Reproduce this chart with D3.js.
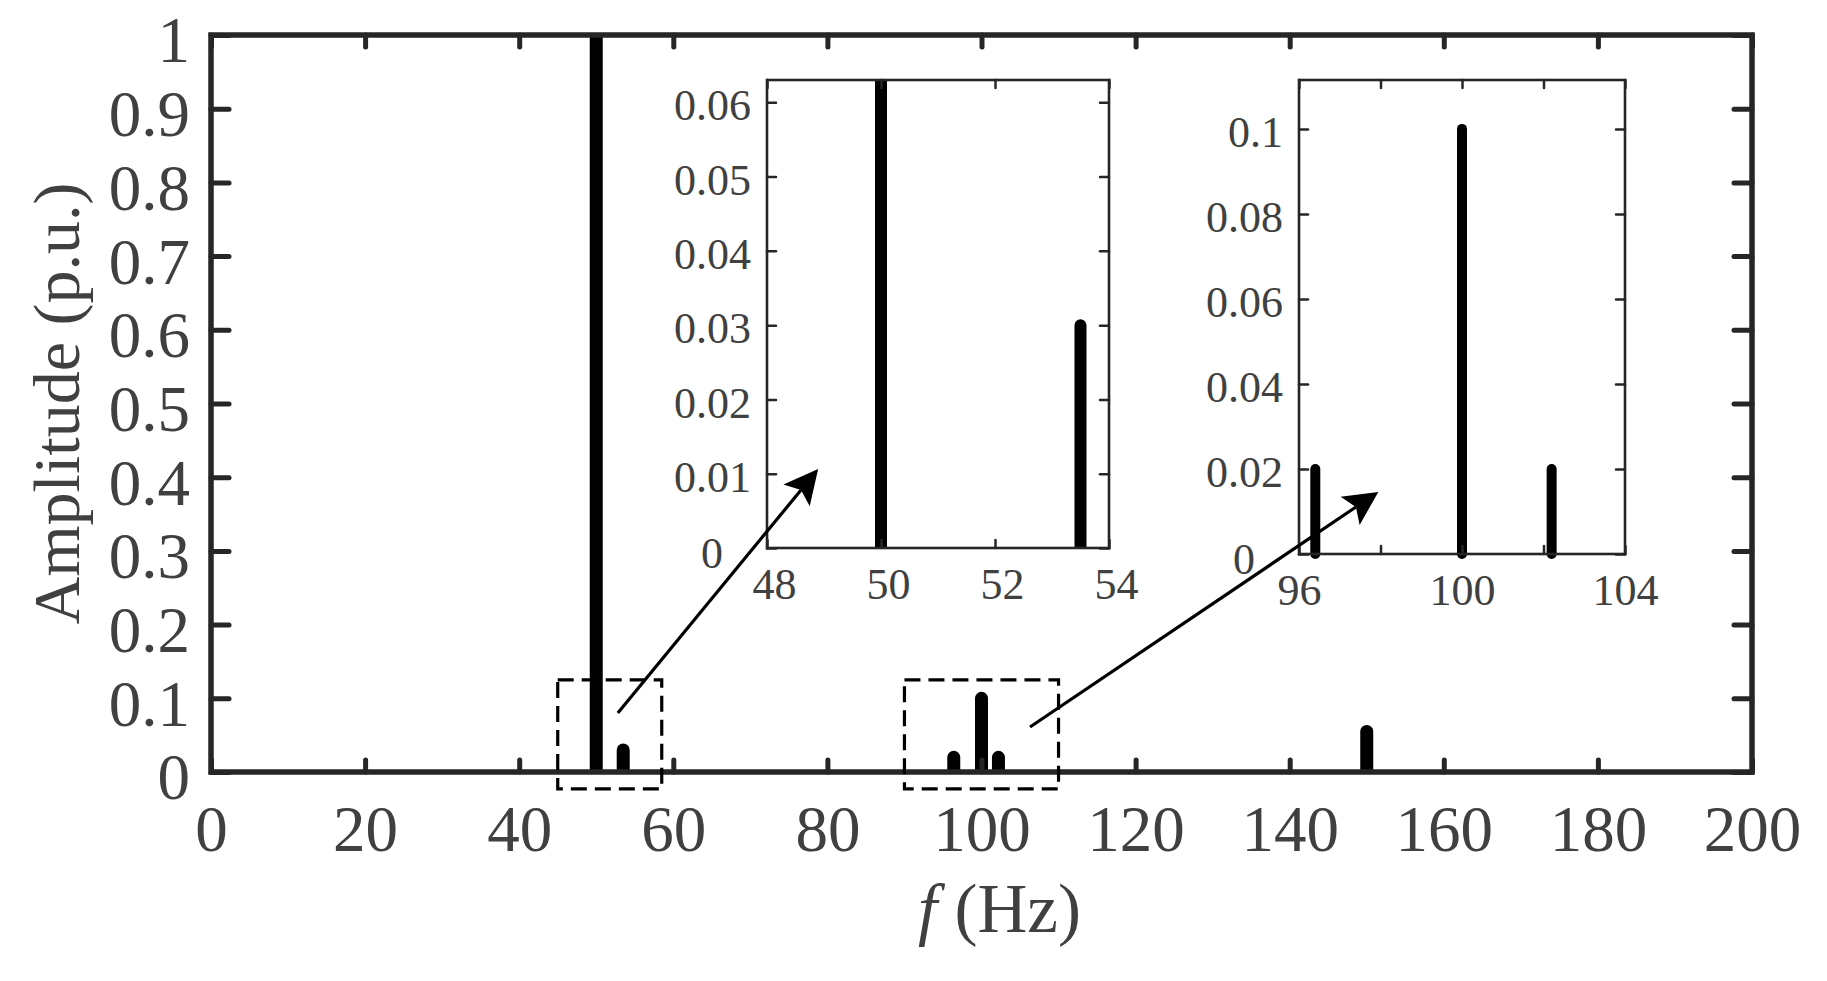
<!DOCTYPE html>
<html><head><meta charset="utf-8">
<script src="https://cdn.jsdelivr.net/npm/d3@7"></script>
<style>
body{margin:0;background:#fff}
text{font-family:"Liberation Serif","Times New Roman",serif;fill:#404040}
</style>
</head><body>
<svg id="c" width="1827" height="981"></svg>
<script>
// ---- data ----
const freqs = [50, 53.5, 96.4, 100, 102.2, 150];
const amps  = [1.0, 0.03, 0.02, 0.1, 0.02, 0.055];

const mainXTicks = [0, 20, 40, 60, 80, 100, 120, 140, 160, 180, 200];
const mainYTicks = [0, 0.1, 0.2, 0.3, 0.4, 0.5, 0.6, 0.7, 0.8, 0.9, 1];
const mainYTickLabels = ["0","0.1","0.2","0.3","0.4","0.5","0.6","0.7","0.8","0.9","1"];

const inset1XTicks = [48, 50, 52, 54];
const inset1XTickLabels = ["48","50","52","54"];
const inset1YTicks = [0, 0.01, 0.02, 0.03, 0.04, 0.05, 0.06];
const inset1YTickLabels = ["0","0.01","0.02","0.03","0.04","0.05","0.06"];
const inset1XDomain = [48, 54];
const inset1YDomain = [0, 0.063];

const inset2XTicks = [96, 98, 100, 102, 104];
const inset2XTickLabels = ["96","","100","","104"];
const inset2YTicks = [0, 0.02, 0.04, 0.06, 0.08, 0.1];
const inset2YTickLabels = ["0","0.02","0.04","0.06","0.08","0.1"];
const inset2XDomain = [96, 104];
const inset2YDomain = [0, 0.1115];

// zoom rectangles and arrows, in main-axis data coordinates
const zoomBoxX0 = [45, 90];
const zoomBoxX1 = [58.5, 110];
const zoomBoxY0 = [-0.023, -0.023];
const zoomBoxY1 = [0.125, 0.125];
const arrowFromX = [52.8, 106.3];
const arrowFromY = [0.080, 0.061];
const arrowToX   = [78.8, 151.5];
const arrowToY   = [0.411, 0.380];

// ---- layout ----
const svg = d3.select("#c");
const M = {l:211, r:1752, t:35, b:772};
const I1 = {l:767, r:1109, t:80, b:548, xdx:7};
const I2 = {l:1299, r:1625, t:80, b:554, xdx:0};
const axisColor = "#262626";
const data = freqs.map((f,i)=>({f, a:amps[i]}));

const x = d3.scaleLinear().domain([0,200]).range([M.l, M.r]);
const y = d3.scaleLinear().domain([0,1]).range([M.b, M.t]);

const defs = svg.append("defs");
defs.append("clipPath").attr("id","clipMain").append("rect")
  .attr("x",M.l).attr("y",M.t).attr("width",M.r-M.l).attr("height",M.b-M.t);
defs.append("clipPath").attr("id","clipI1").append("rect")
  .attr("x",I1.l).attr("y",I1.t).attr("width",I1.r-I1.l).attr("height",I1.b-I1.t);

// main bars
svg.append("g").attr("clip-path","url(#clipMain)")
  .selectAll("line").data(data).join("line")
  .attr("x1",d=>x(d.f)).attr("x2",d=>x(d.f))
  .attr("y1",y(0)).attr("y2",d=>y(d.a))
  .attr("stroke","#000").attr("stroke-width",13).attr("stroke-linecap","round");

function styleAxis(g, sw){
  g.select(".domain").remove();
  g.selectAll(".tick line").attr("stroke",axisColor).attr("stroke-width",sw).attr("stroke-linecap","round");
}

// main axes
const fsMain = 65;
const gxB = svg.append("g").attr("transform",`translate(0,${M.b})`)
  .call(d3.axisBottom(x).tickValues(mainXTicks).tickSize(-12).tickPadding(33).tickFormat(d3.format("d")));
styleAxis(gxB,5);
gxB.selectAll("text").attr("font-size",fsMain).attr("fill","#404040");
const gxT = svg.append("g").attr("transform",`translate(0,${M.t})`)
  .call(d3.axisTop(x).tickValues(mainXTicks).tickSize(-12).tickFormat(""));
styleAxis(gxT,5);
const gyL = svg.append("g").attr("transform",`translate(${M.l},0)`)
  .call(d3.axisLeft(y).tickValues(mainYTicks).tickSize(-18).tickPadding(21)
    .tickFormat((d,i)=>mainYTickLabels[i]));
styleAxis(gyL,5);
gyL.selectAll("text").attr("font-size",fsMain).attr("fill","#404040").attr("dy","0.415em");
const gyR = svg.append("g").attr("transform",`translate(${M.r},0)`)
  .call(d3.axisRight(y).tickValues(mainYTicks).tickSize(-18).tickFormat(""));
styleAxis(gyR,5);
svg.append("rect").attr("x",M.l).attr("y",M.t).attr("width",M.r-M.l).attr("height",M.b-M.t)
  .attr("fill","none").attr("stroke",axisColor).attr("stroke-width",5.5);

// titles
svg.append("text").attr("transform",`translate(79,${(M.t+M.b)/2}) rotate(-90)`)
  .attr("text-anchor","middle").attr("font-size",66).text("Amplitude (p.u.)");
const xt = svg.append("text").attr("x",(M.l+M.r)/2+18).attr("y",932)
  .attr("text-anchor","middle").attr("font-size",69);
xt.append("tspan").attr("font-style","italic").text("f");
xt.append("tspan").text(" (Hz)");

// dashed zoom boxes
svg.append("g").selectAll("rect").data(zoomBoxX0).join("rect")
  .attr("x",(d,i)=>x(zoomBoxX0[i])).attr("y",(d,i)=>y(zoomBoxY1[i]))
  .attr("width",(d,i)=>x(zoomBoxX1[i])-x(zoomBoxX0[i]))
  .attr("height",(d,i)=>y(zoomBoxY0[i])-y(zoomBoxY1[i]))
  .attr("fill","none").attr("stroke","#000").attr("stroke-width",3.2)
  .attr("stroke-dasharray","16 8");

// insets
function inset(box, xDom, yDom, xT, xTL, yT, yTL, barW, clipId){
  const xs = d3.scaleLinear().domain(xDom).range([box.l, box.r]);
  const ys = d3.scaleLinear().domain(yDom).range([box.b, box.t]);
  svg.append("rect").attr("x",box.l).attr("y",box.t).attr("width",box.r-box.l).attr("height",box.b-box.t)
    .attr("fill","#fff");
  const sub = data.filter(d=>d.f>=xDom[0]-0.01 && d.f<=xDom[1]+0.01);
  const gb = svg.append("g");
  if(clipId) gb.attr("clip-path",`url(#${clipId})`);
  gb.selectAll("line").data(sub).join("line")
    .attr("x1",d=>xs(d.f)).attr("x2",d=>xs(d.f))
    .attr("y1",ys(0)).attr("y2",d=>ys(d.a))
    .attr("stroke","#000").attr("stroke-width",barW).attr("stroke-linecap","round");
  const fs = 44;
  const b = svg.append("g").attr("transform",`translate(0,${box.b})`)
    .call(d3.axisBottom(xs).tickValues(xT).tickSize(-8).tickPadding(20).tickFormat((d,i)=>xTL[i]));
  styleAxis(b,2.5);
  b.selectAll("text").attr("font-size",fs).attr("fill","#404040").attr("dx",box.xdx);
  const t = svg.append("g").attr("transform",`translate(0,${box.t})`)
    .call(d3.axisTop(xs).tickValues(xT).tickSize(-8).tickFormat(""));
  styleAxis(t,2.5);
  const l = svg.append("g").attr("transform",`translate(${box.l},0)`)
    .call(d3.axisLeft(ys).tickValues(yT).tickSize(-9).tickPadding(16).tickFormat((d,i)=>yTL[i]));
  styleAxis(l,2.5);
  l.selectAll("text").attr("font-size",fs).attr("fill","#404040").attr("dy","0.4em");
  // the "0" label is pushed left to avoid the x labels
  l.selectAll(".tick").filter(d=>d===0).select("text").attr("x",-44).attr("dy","0.45em");
  const r = svg.append("g").attr("transform",`translate(${box.r},0)`)
    .call(d3.axisRight(ys).tickValues(yT).tickSize(-9).tickFormat(""));
  styleAxis(r,2.5);
  svg.append("rect").attr("x",box.l).attr("y",box.t).attr("width",box.r-box.l).attr("height",box.b-box.t)
    .attr("fill","none").attr("stroke",axisColor).attr("stroke-width",2.6);
}
inset(I1, inset1XDomain, inset1YDomain, inset1XTicks, inset1XTickLabels, inset1YTicks, inset1YTickLabels, 12, "clipI1");
inset(I2, inset2XDomain, inset2YDomain, inset2XTicks, inset2XTickLabels, inset2YTicks, inset2YTickLabels, 10, null);

// arrows
const ga = svg.append("g");
arrowFromX.forEach((_,i)=>{
  const x0 = x(arrowFromX[i]), y0 = y(arrowFromY[i]);
  const x1 = x(arrowToX[i]),  y1 = y(arrowToY[i]);
  const ang = Math.atan2(y1-y0, x1-x0);
  const L = 34, W = 17, N = 27;
  const ux = Math.cos(ang), uy = Math.sin(ang), px = -uy, py = ux;
  const bx = x1-ux*L, by = y1-uy*L;
  const nx = x1-ux*N, ny = y1-uy*N;
  ga.append("line").attr("x1",x0).attr("y1",y0).attr("x2",nx).attr("y2",ny)
    .attr("stroke","#000").attr("stroke-width",3.2);
  ga.append("path")
    .attr("d",`M${x1},${y1}L${bx+px*W},${by+py*W}L${nx},${ny}L${bx-px*W},${by-py*W}Z`)
    .attr("fill","#000");
});
</script>
</body></html>
